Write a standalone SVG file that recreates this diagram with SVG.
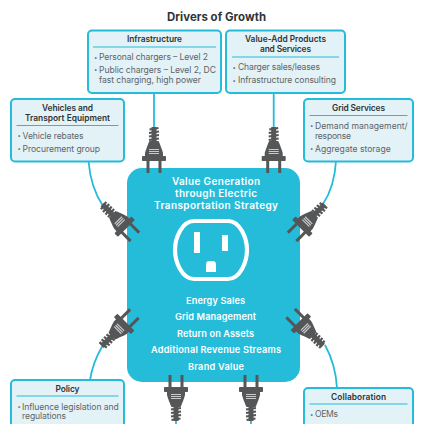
<svg xmlns="http://www.w3.org/2000/svg" width="424" height="424" viewBox="0 0 424 424">
<style>
text{font-family:"Inter","Liberation Sans",sans-serif}
.box{fill:#e2f2f7;stroke:#25bcd9;stroke-width:2}
.rule{stroke:#25bcd9;stroke-width:1}
.cord{fill:none;stroke:#25bcd9;stroke-width:1.8}
.h{font-size:8.4px;font-weight:600;fill:#2f3438;text-anchor:middle}
.b{font-size:8.6px;fill:#5f6467}
.d{font-size:6px;fill:#5f6467}
.w{font-size:10px;font-weight:600;fill:#fff;text-anchor:middle}
.s{font-size:9.2px}
.plug{fill:#555658}
</style>
<defs>
<g id="plug">
<rect class="plug" x="-7.500" y="0" width="3" height="14"/>
<rect class="plug" x="4.500" y="0" width="3" height="14"/>
<rect class="plug" x="-12" y="-3" width="24" height="5" rx="0.800"/>
<path class="plug" d="M-9-2V-6C-8-10-6.500-13-5.500-16L-4.500-18H4.500L5.500-16C6.500-13 8-10 9-6V-2Z"/>
<path d="M-5-9.500H5M-5-7.500H5M-5-5.500H5" stroke="#c9cacb" stroke-width="1.200" fill="none"/>
<path d="M-5-19L5-20.500M-5-22.500L5-24M-5-26L5-27.500M-4.500-29.500L4.500-31" stroke="#555658" stroke-width="2.200" fill="none"/>
<rect class="plug" x="-2.500" y="-32" width="5" height="15"/>
</g>
</defs>
<text x="216.500" y="21" fill="#2f3438" font-weight="700" text-anchor="middle" textLength="99" style="font-size:11.400px">Drivers of Growth</text>
<g id="connectors">
<path class="cord" d="M154 93V127"/>
<path class="cord" d="M273.700 93V127"/>
<path class="cord" d="M88.500 161C90 180 95 194 103 206"/>
<path class="cord" d="M336 161C335 178 331 192 323 204"/>
<path class="cord" d="M90 380C92 367 97 355 103 345"/>
<path class="cord" d="M337 388C336 370 331 356 325 345"/>
<path class="cord" d="M176 424V415"/>
<path class="cord" d="M251 424V415"/>
</g>
<g id="hub">
<rect x="127" y="168" width="173" height="214" rx="15" fill="#25bcd9"/>
<text class="w" x="216" y="185" textLength="88">Value Generation</text>
<text class="w" x="216" y="197" textLength="82">through Electric</text>
<text class="w" x="216" y="209" textLength="124">Transportation Strategy</text>
<path d="M194 221H228C240 221 247 238 247 250S240 279 228 279H194C182 279 175 262 175 250S182 221 194 221Z" fill="none" stroke="#fff" stroke-width="4.200"/>
<rect x="194" y="232" width="6" height="21" fill="#fff"/>
<rect x="222" y="235" width="6" height="16" fill="#fff"/>
<path d="M206 272V265Q206 261 209 261H213Q216 261 216 265V272Z" fill="#fff"/>
<text class="w s" x="215.500" y="304" textLength="59">Energy Sales</text>
<text class="w s" x="215.500" y="320" textLength="81">Grid Management</text>
<text class="w s" x="215.500" y="337" textLength="77">Return on Assets</text>
<text class="w s" x="216" y="353" textLength="130">Additional Revenue Streams</text>
<text class="w s" x="216" y="370" textLength="56">Brand Value</text>
</g>
<g id="plug-infrastructure"><use href="#plug" transform="translate(154 159)"/></g>
<g id="plug-value-add"><use href="#plug" transform="translate(273.700 159)"/></g>
<g id="plug-vehicles"><use href="#plug" transform="translate(125 227) rotate(-45)"/></g>
<g id="plug-grid"><use href="#plug" transform="translate(302 227) rotate(45)"/></g>
<g id="plug-policy"><use href="#plug" transform="translate(124.500 323.500) rotate(-135)"/></g>
<g id="plug-collaboration"><use href="#plug" transform="translate(300.500 323) rotate(135)"/></g>
<g id="plug-bottom-1"><use href="#plug" transform="translate(176 389) rotate(180)"/></g>
<g id="plug-bottom-2"><use href="#plug" transform="translate(251 389) rotate(180)"/></g>
<g id="infrastructure">
<rect class="box" x="88" y="30.500" width="133" height="62.500" rx="4"/>
<text class="h" x="154.500" y="42" textLength="55">Infrastructure</text>
<line class="rule" x1="93" y1="47" x2="216" y2="47"/>
<text class="d" x="94" y="59.500">•</text><text class="b" x="99" y="60" textLength="109">Personal chargers – Level 2</text>
<text class="d" x="94" y="72">•</text><text class="b" x="99" y="72.500" textLength="117">Public chargers – Level 2, DC</text>
<text class="b" x="99" y="82.500" textLength="102">fast charging, high power</text>
</g>
<g id="value-add">
<rect class="box" x="226" y="30.500" width="119" height="62.500" rx="4"/>
<text class="h" x="285.500" y="42" textLength="81">Value-Add Products</text>
<text class="h" x="285.500" y="52" textLength="51">and Services</text>
<line class="rule" x1="232" y1="57" x2="339" y2="57"/>
<text class="d" x="232.500" y="69.500">•</text><text class="b" x="238" y="70" textLength="82">Charger sales/leases</text>
<text class="d" x="232.500" y="82.500">•</text><text class="b" x="238" y="83" textLength="98">Infrastructure consulting</text>
</g>
<g id="vehicles">
<rect class="box" x="11" y="99" width="113" height="62.500" rx="4"/>
<text class="h" x="67.500" y="110.500" textLength="51">Vehicles and</text>
<text class="h" x="67.500" y="120.500" textLength="85">Transport Equipment</text>
<line class="rule" x1="16.500" y1="125.500" x2="118.500" y2="125.500"/>
<text class="d" x="17.500" y="138">•</text><text class="b" x="22.500" y="138.500" textLength="61">Vehicle rebates</text>
<text class="d" x="17.500" y="151">•</text><text class="b" x="22.500" y="151.500" textLength="77.500">Procurement group</text>
</g>
<g id="grid">
<rect class="box" x="304" y="99" width="109" height="62.500" rx="4"/>
<text class="h" x="358.500" y="110.500" textLength="53">Grid Services</text>
<line class="rule" x1="309.500" y1="115.500" x2="407.500" y2="115.500"/>
<text class="d" x="310" y="128">•</text><text class="b" x="315" y="128.500" textLength="92.700">Demand management/</text>
<text class="b" x="315" y="138.500" textLength="36">response</text>
<text class="d" x="310" y="151">•</text><text class="b" x="315" y="151.500" textLength="75.700">Aggregate storage</text>
</g>
<g id="policy">
<rect class="box" x="11" y="380" width="113" height="60" rx="4"/>
<text class="h" x="67.500" y="391.500" textLength="24">Policy</text>
<line class="rule" x1="16.500" y1="396" x2="118.500" y2="396"/>
<text class="d" x="17.500" y="409">•</text><text class="b" x="22" y="409.500" textLength="96.700">Influence legislation and</text>
<text class="b" x="22" y="419" textLength="44">regulations</text>
</g>
<g id="collaboration">
<rect class="box" x="304" y="388" width="109" height="60" rx="4"/>
<text class="h" x="358.500" y="399.500" textLength="55">Collaboration</text>
<line class="rule" x1="309.500" y1="404" x2="407.500" y2="404"/>
<text class="d" x="310" y="416.500">•</text><text class="b" x="315" y="417" textLength="23">OEMs</text>
</g>
</svg>
